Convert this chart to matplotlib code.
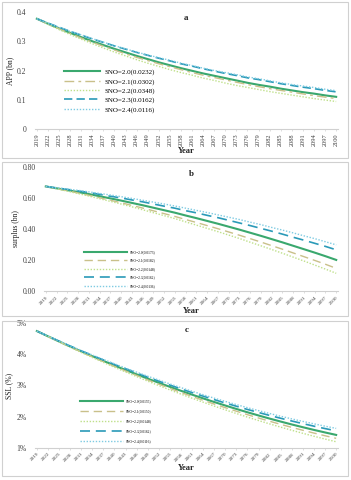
import matplotlib
matplotlib.use("Agg")
import matplotlib.pyplot as plt
from matplotlib.patches import Rectangle
from matplotlib.ticker import FuncFormatter

years = list(range(2019, 2101, 3))

labels_a = ["SNO=2.0(0.0232)", "SNO=2.1(0.0302)", "SNO=2.2(0.0348)", "SNO=2.3(0.0162)", "SNO=2.4(0.0116)"]
labels_b = ["SNO=2.0(0.0173)", "SNO=2.1(0.0182)", "SNO=2.2(0.0148)", "SNO=2.3(0.0162)", "SNO=2.4(0.0136)"]
labels_c = ["SNO=2.0(0.0155)", "SNO=2.1(0.0150)", "SNO=2.2(0.0148)", "SNO=2.3(0.0162)", "SNO=2.4(0.0116)"]

app_20 = [0.377, 0.360, 0.344, 0.329, 0.314, 0.300, 0.287, 0.274, 0.262, 0.250, 0.239, 0.228, 0.218, 0.208,
          0.199, 0.190, 0.182, 0.174, 0.166, 0.158, 0.151, 0.145, 0.138, 0.132, 0.126, 0.121, 0.115, 0.110]
app_21 = [0.377, 0.359, 0.343, 0.327, 0.311, 0.297, 0.283, 0.270, 0.257, 0.245, 0.234, 0.223, 0.213, 0.203,
          0.193, 0.184, 0.176, 0.168, 0.160, 0.152, 0.145, 0.138, 0.132, 0.126, 0.120, 0.114, 0.109, 0.104]
app_22 = [0.377, 0.358, 0.340, 0.323, 0.307, 0.292, 0.277, 0.263, 0.250, 0.237, 0.225, 0.214, 0.203, 0.193,
          0.184, 0.174, 0.166, 0.157, 0.149, 0.142, 0.135, 0.128, 0.122, 0.116, 0.110, 0.104, 0.099, 0.094]
app_23 = [0.377, 0.362, 0.348, 0.334, 0.321, 0.308, 0.296, 0.284, 0.273, 0.262, 0.252, 0.242, 0.233, 0.223,
          0.215, 0.206, 0.198, 0.190, 0.183, 0.175, 0.169, 0.162, 0.155, 0.149, 0.143, 0.138, 0.132, 0.127]
app_24 = [0.377, 0.362, 0.348, 0.334, 0.322, 0.309, 0.297, 0.285, 0.274, 0.263, 0.253, 0.244, 0.235, 0.225,
          0.217, 0.208, 0.200, 0.193, 0.186, 0.178, 0.172, 0.165, 0.158, 0.152, 0.147, 0.142, 0.136, 0.131]

sur_20 = [0.673, 0.661, 0.649, 0.637, 0.624, 0.610, 0.596, 0.582, 0.567, 0.552, 0.536, 0.520, 0.504, 0.486,
          0.469, 0.451, 0.433, 0.414, 0.395, 0.375, 0.355, 0.334, 0.313, 0.291, 0.269, 0.247, 0.224, 0.200]
sur_21 = [0.673, 0.659, 0.645, 0.631, 0.616, 0.600, 0.584, 0.568, 0.551, 0.534, 0.516, 0.498, 0.480, 0.460,
          0.441, 0.421, 0.401, 0.380, 0.359, 0.337, 0.315, 0.292, 0.269, 0.245, 0.221, 0.197, 0.172, 0.146]
sur_22 = [0.673, 0.658, 0.643, 0.627, 0.611, 0.594, 0.577, 0.560, 0.542, 0.523, 0.504, 0.485, 0.466, 0.445,
          0.424, 0.403, 0.382, 0.360, 0.338, 0.314, 0.291, 0.267, 0.243, 0.218, 0.193, 0.167, 0.141, 0.114]
sur_23 = [0.673, 0.663, 0.654, 0.644, 0.634, 0.622, 0.610, 0.599, 0.586, 0.574, 0.560, 0.546, 0.533, 0.517,
          0.503, 0.487, 0.472, 0.455, 0.438, 0.421, 0.403, 0.385, 0.366, 0.346, 0.327, 0.307, 0.287, 0.265]
sur_24 = [0.673, 0.665, 0.656, 0.648, 0.638, 0.628, 0.618, 0.607, 0.596, 0.584, 0.572, 0.560, 0.547, 0.533,
          0.519, 0.505, 0.490, 0.475, 0.460, 0.443, 0.427, 0.409, 0.392, 0.374, 0.355, 0.337, 0.317, 0.297]

ssl_20 = [4.750, 4.582, 4.417, 4.255, 4.097, 3.943, 3.792, 3.644, 3.500, 3.359, 3.221, 3.088, 2.957, 2.830,
          2.706, 2.586, 2.469, 2.356, 2.246, 2.139, 2.036, 1.936, 1.840, 1.747, 1.658, 1.572, 1.490, 1.411]
ssl_21 = [4.750, 4.578, 4.409, 4.243, 4.081, 3.923, 3.768, 3.615, 3.467, 3.322, 3.180, 3.043, 2.908, 2.777,
          2.649, 2.525, 2.404, 2.287, 2.173, 2.062, 1.955, 1.850, 1.750, 1.653, 1.560, 1.470, 1.384, 1.301]
ssl_22 = [4.750, 4.574, 4.401, 4.231, 4.064, 3.902, 3.743, 3.587, 3.435, 3.286, 3.140, 2.998, 2.859, 2.724,
          2.592, 2.464, 2.339, 2.217, 2.099, 1.984, 1.873, 1.765, 1.661, 1.560, 1.462, 1.368, 1.278, 1.191]
ssl_23 = [4.750, 4.587, 4.427, 4.269, 4.116, 3.967, 3.821, 3.678, 3.539, 3.402, 3.269, 3.141, 3.015, 2.893,
          2.773, 2.658, 2.546, 2.438, 2.333, 2.230, 2.132, 2.037, 1.946, 1.858, 1.774, 1.692, 1.615, 1.541]
ssl_24 = [4.750, 4.590, 4.433, 4.278, 4.128, 3.982, 3.839, 3.698, 3.562, 3.429, 3.299, 3.174, 3.050, 2.931,
          2.815, 2.703, 2.593, 2.488, 2.386, 2.287, 2.192, 2.099, 2.011, 1.926, 1.845, 1.767, 1.692, 1.621]

colors = ["#3aa86e", "#c9c08a", "#bfe08a", "#2a9ab8", "#7fcbe2"]
widths = [1.5, 1.0, 1.0, 1.2, 1.0]

plt.rcParams["font.family"] = ["Liberation Serif", "DejaVu Serif"]

W, H = 351, 480
fig = plt.figure(figsize=(W / 100, H / 100), dpi=100)

def fr(x0, top, x1, bottom):
    return [x0 / W, 1 - bottom / H, (x1 - x0) / W, (bottom - top) / H]

# panel borders
for (y0, y1) in [(1.5, 158), (162, 316), (321, 476)]:
    fig.patches.append(Rectangle((1.5 / W, 1 - y1 / H), (348 - 1.5) / W, (y1 - y0) / H,
                                 transform=fig.transFigure, fill=False, edgecolor="#d0d0d0", lw=0.8))

panels = [
    dict(pos=fr(35, 12, 338, 129), series=[app_20, app_21, app_22, app_23, app_24], labels=labels_a,
         ylim=(0, 0.4), yticks=[0, 0.1, 0.2, 0.3, 0.4], fmt=lambda v, p: "0" if v == 0 else f"{v:.1f}",
         ylabel="APP (bn)", title="a", rot=90,
         styles=["-", (0, (7, 3, 2, 3)), (0, (1, 1.2)), (0, (5, 2.5)), (0, (1, 1.2))],
         leg=dict(bbox=(64 / W, 1 - 69 / H), fs=5.0, hl=5.2, sp=0.45)),
    dict(pos=fr(44, 166.7, 338, 291), series=[sur_20, sur_21, sur_22, sur_23, sur_24], labels=labels_b,
         ylim=(0, 0.8), yticks=[0, 0.2, 0.4, 0.6, 0.8], fmt=lambda v, p: f"{v:.2f}",
         ylabel="surplus (bn)", title="b", rot=45,
         styles=["-", (0, (6, 3.5)), (0, (1, 1.2)), (0, (6, 3.5)), (0, (1, 1.2))],
         leg=dict(bbox=(84 / W, 1 - 250 / H), fs=2.6, hl=12.0, sp=1.25)),
    dict(pos=fr(35, 323.3, 338, 447.7), series=[ssl_20, ssl_21, ssl_22, ssl_23, ssl_24], labels=labels_c,
         ylim=(1, 5), yticks=[1, 2, 3, 4, 5], fmt=lambda v, p: f"{v:.0f}%",
         ylabel="SSL (%)", title="c", rot=45,
         styles=["-", (0, (6, 3.5)), (0, (1, 1.2)), (0, (6, 3.5)), (0, (1, 1.2))],
         leg=dict(bbox=(80 / W, 1 - 399 / H), fs=2.6, hl=12.0, sp=1.7)),
]

for p in panels:
    ax = fig.add_axes(p["pos"])
    for s, c, ls, lw, lab in zip(p["series"], colors, p["styles"], widths, p["labels"]):
        ax.plot(years, s, color=c, linestyle=ls, lw=lw, label=lab)
    ax.set_xlim(2018.5, 2100.5)
    ax.set_ylim(*p["ylim"])
    ax.set_yticks(p["yticks"])
    ax.yaxis.set_major_formatter(FuncFormatter(p["fmt"]))
    ax.set_xticks(years)
    if p["rot"] == 90:
        ax.set_xticklabels([str(y) for y in years], rotation=90, fontsize=4.6)
    else:
        ax.set_xticklabels([str(y) for y in years], rotation=45, fontsize=3.8,
                           ha="right", rotation_mode="anchor")
    for side in ["top", "right", "left"]:
        ax.spines[side].set_visible(False)
    ax.spines["bottom"].set_color("#d0d0d0")
    ax.spines["bottom"].set_linewidth(0.8)
    ax.tick_params(axis="y", length=0, labelsize=5.5, pad=6, colors="#404040")
    ax.tick_params(axis="x", length=1.5, width=0.5, color="#d0d0d0", pad=1.5, labelcolor="#404040")
    ax.set_ylabel(p["ylabel"], fontsize=5.5, labelpad=2, color="#202020")
    ax.set_xlabel("Year", fontsize=6, fontweight="bold", labelpad=1, color="#202020")
    ax.set_title(p["title"], fontsize=6.5, fontweight="bold", y=0.86, color="#202020")
    ax.patch.set_alpha(0)
    lg = p["leg"]
    ax.legend(loc="upper left", bbox_to_anchor=lg["bbox"], bbox_transform=fig.transFigure,
              frameon=False, fontsize=lg["fs"], handlelength=lg["hl"], labelspacing=lg["sp"],
              handletextpad=0.6, borderaxespad=0, borderpad=0)

fig.savefig("out.png", dpi=100)
